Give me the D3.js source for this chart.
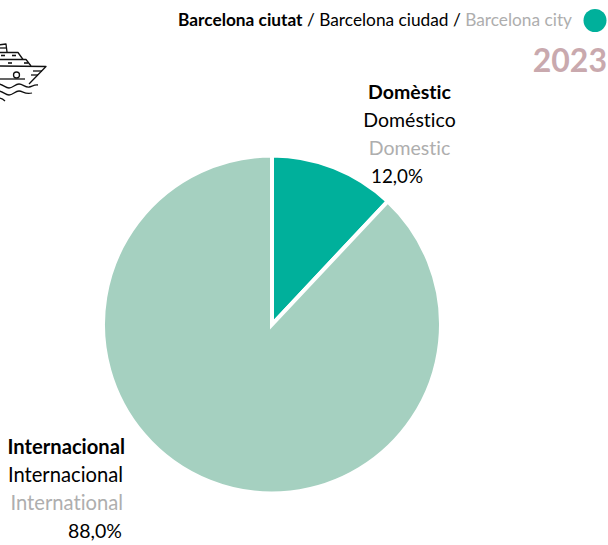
<!DOCTYPE html>
<html>
<head>
<meta charset="utf-8">
<script src="https://cdn.jsdelivr.net/npm/d3@7"></script>
<style>
  html, body { margin: 0; padding: 0; background: #fff; }
  text { font-family: Lato, "Open Sans", sans-serif; font-variant-ligatures: none; }
</style>
</head>
<body>
<script>
const categories = ["Domèstic", "Internacional"];
const spanish = ["Doméstico", "Internacional"];
const english = ["Domestic", "International"];
const shares = [12.0, 88.0];
const sliceColors = ["#00b09b", "#a5d0c0"];
const titleParts = ["Barcelona ciutat", " / Barcelona ciudad / ", "Barcelona city"];
const yearLabel = "2023";

const w = 608;
const h = 545;
const cx = 272;
const cy = 324.5;
const radius = 169;

const svg = d3.select("body").append("svg")
  .attr("width", w)
  .attr("height", h)
  .style("display", "block");

// pie
const pie = d3.pie().sort(null).value(d => d);
const arc = d3.arc().innerRadius(0).outerRadius(radius);

svg.append("g")
  .attr("transform", "translate(" + cx + "," + cy + ")")
  .selectAll("path")
  .data(pie(shares))
  .enter()
  .append("path")
  .attr("d", arc)
  .attr("fill", (d, i) => sliceColors[i])
  .attr("stroke", "#fff")
  .attr("stroke-width", 4);

// header
const title = svg.append("text")
  .attr("x", 572)
  .attr("y", 25.5)
  .attr("text-anchor", "end")
  .attr("font-size", 17.3);
title.append("tspan").attr("font-weight", 700).attr("fill", "#000").text(titleParts[0]);
title.append("tspan").attr("fill", "#000").text(titleParts[1]);
title.append("tspan").attr("fill", "#aeaeae").text(titleParts[2]);

svg.append("circle")
  .attr("cx", 595)
  .attr("cy", 20.5)
  .attr("r", 11.5)
  .attr("fill", sliceColors[0]);

svg.append("text")
  .attr("x", 607)
  .attr("y", 72)
  .attr("text-anchor", "end")
  .attr("font-size", 32)
  .attr("font-weight", 700)
  .attr("fill", "#c9a9ae")
  .text(yearLabel);

// slice labels
const labelPos = [
  { x: 409.5, y: 98.5, pctX: 397, anchor: "middle", size: 19.5, pctSize: 18.8 },
  { x: 125, y: 453.5, pctX: 122, anchor: "end", size: 20.2, pctSize: 19.5 }
];

categories.forEach((c, i) => {
  const p = labelPos[i];
  const g = svg.append("g").attr("font-size", p.size).attr("text-anchor", p.anchor);
  g.append("text").attr("x", p.x).attr("y", p.y).attr("font-weight", 700).attr("fill", "#000").text(c);
  g.append("text").attr("x", p.x - (i ? 2 : 0)).attr("y", p.y + 28).attr("fill", "#000").text(spanish[i]);
  g.append("text").attr("x", p.x - (i ? 2 : 0)).attr("y", p.y + 56).attr("fill", "#aeaeae").text(english[i]);
  g.append("text").attr("x", p.pctX).attr("y", p.y + 84).attr("fill", "#000")
    .attr("font-size", p.pctSize)
    .text(shares[i].toFixed(1).replace(".", ",") + "%");
});

// ship icon, clipped by the left edge
const ship = svg.append("g")
  .attr("fill", "none")
  .attr("stroke", "#111")
  .attr("stroke-width", 1.3)
  .attr("stroke-linejoin", "round");
[
  "M-2,45 L6,44 L7,52",
  "M-2,48 L6,48",
  "M-2,52.5 L18,52.5 L23,59.5",
  "M-2,59.5 L26,59.5 L31,66",
  "M-2,66 L46,66.5 L29,84",
  "M33,71 L42,71",
  "M31,75 L38,75",
  "M-2,79 L25,79",
  "M-2,84 C3,84 5,88 9,88 C13,88 15,84 19,84 C23,84 25,87.5 29,87 C32,86.5 34,84.5 38,85",
  "M-2,91 C3,91 5,95 9,95 C13,95 15,91 19,91 C23,91 25,95 32,93",
  "M-2,98 C1,98 3,99 5,101"
].forEach(d => ship.append("path").attr("d", d));
ship.append("circle").attr("cx", 16.5).attr("cy", 75).attr("r", 3);
ship.selectAll(".win")
  .data([[1, 55.5], [12, 55.5], [8, 63], [24, 63]])
  .enter()
  .append("line")
  .attr("class", "win")
  .attr("x1", d => d[0])
  .attr("x2", d => d[0] + 4)
  .attr("y1", d => d[1])
  .attr("y2", d => d[1])
  .attr("stroke-width", 1.6);
</script>
</body>
</html>
